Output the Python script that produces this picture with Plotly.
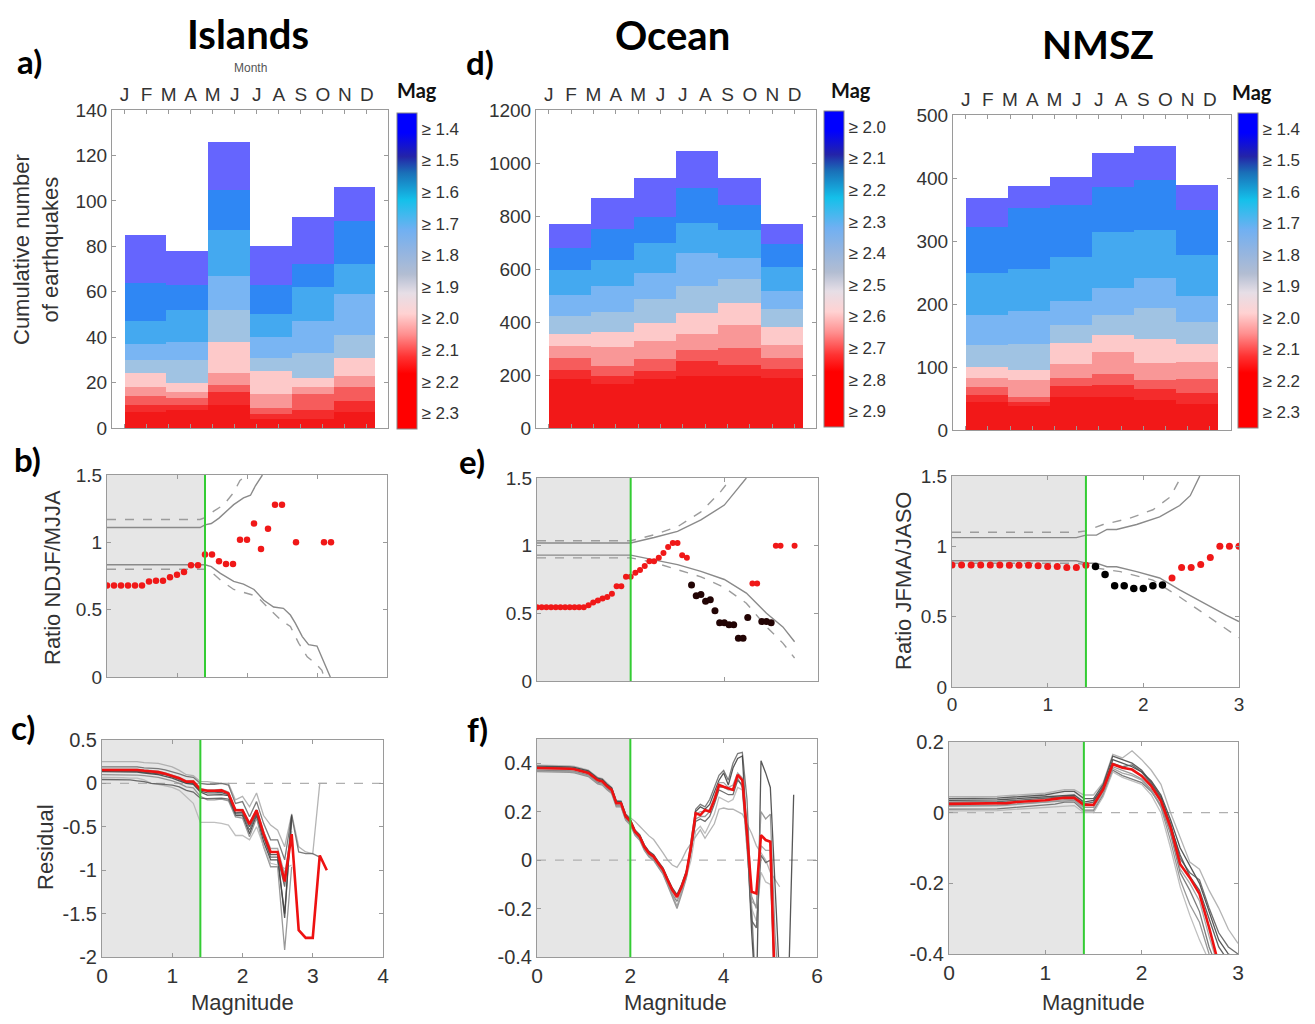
import plotly.graph_objects as go

W, H = 1315, 1024          # target picture size
PAGE_PAD = 8               # default body margin of the html page
FW, FH = W - 2 * PAGE_PAD, H - 2 * PAGE_PAD   # figure size so page fits the window

# ---------------- DATA ----------------
months = ["J", "F", "M", "A", "M", "J", "J", "A", "S", "O", "N", "D"]
bar_groups = ["Jan-Feb", "Mar-Apr", "May-Jun", "Jul-Aug", "Sep-Oct", "Nov-Dec"]

# cumulative counts per bi-monthly bar, layers from highest threshold (bottom) to lowest (top)
isl_labels = ["≥ 2.3", "≥ 2.2", "≥ 2.1", "≥ 2.0", "≥ 1.9", "≥ 1.8", "≥ 1.7", "≥ 1.6", "≥ 1.5", "≥ 1.4"]
isl_jf = [7, 10, 14, 18, 24, 30, 37, 47, 64, 85]
isl_ma = [8, 10, 13, 16, 20, 30, 38, 52, 63, 78]
isl_mj = [10, 16, 19, 24, 38, 52, 67, 87, 105, 126]
isl_ja = [4, 6, 9, 15, 25, 31, 40, 50, 63, 80]
isl_so = [4, 8, 15, 18, 22, 33, 47, 62, 72, 93]
isl_nd = [7, 12, 18, 23, 31, 41, 59, 72, 91, 106]

oc_labels = ["≥ 2.9", "≥ 2.8", "≥ 2.7", "≥ 2.6", "≥ 2.5", "≥ 2.4", "≥ 2.3", "≥ 2.2", "≥ 2.1", "≥ 2.0"]
oc_jf = [185, 220, 266, 308, 356, 423, 502, 597, 678, 770]
oc_ma = [166, 195, 235, 304, 364, 437, 534, 634, 752, 868]
oc_mj = [185, 217, 261, 327, 398, 487, 584, 700, 795, 942]
oc_ja = [195, 251, 295, 354, 433, 534, 660, 775, 907, 1044]
oc_so = [195, 236, 302, 389, 471, 562, 641, 747, 843, 945]
oc_nd = [188, 224, 266, 315, 383, 448, 518, 607, 693, 770]

nm_labels = ["≥ 2.3", "≥ 2.2", "≥ 2.1", "≥ 2.0", "≥ 1.9", "≥ 1.8", "≥ 1.7", "≥ 1.6", "≥ 1.5", "≥ 1.4"]
nm_jf = [44, 56, 69, 83, 100, 135, 183, 250, 323, 368]
nm_ma = [38, 45, 53, 79, 96, 137, 189, 256, 352, 387]
nm_mj = [53, 70, 82, 105, 138, 167, 204, 274, 357, 402]
nm_ja = [53, 72, 89, 124, 151, 183, 226, 315, 385, 439]
nm_so = [48, 65, 79, 106, 144, 193, 241, 317, 397, 451]
nm_nd = [42, 58, 81, 108, 136, 172, 213, 278, 349, 389]

layer_colors = ["#f21818", "#f42c2c", "#f65c5c", "#f99797", "#fdc9c9",
                "#a0c3e3", "#79b5f3", "#44a9f0", "#2f87f4", "#6565fe"]

# magnitude of completeness
mc_isl, mc_oc, mc_nm = 1.4, 2.0, 1.4

# ---- ratio panels ----
isl_ratio_mag = [0.0, 0.1, 0.2, 0.3, 0.4, 0.5, 0.6, 0.7, 0.8, 0.9, 1.0, 1.1, 1.2, 1.3, 1.4, 1.5, 1.6,
                 1.7, 1.8, 1.9, 2.0, 2.1, 2.2, 2.3, 2.4, 2.5, 2.7, 3.1, 3.2]
isl_ratio = [0.68, 0.68, 0.68, 0.68, 0.68, 0.68, 0.71, 0.715, 0.715, 0.74, 0.76, 0.78, 0.83, 0.83,
             0.91, 0.91, 0.86, 0.84, 0.84, 1.02, 1.02, 1.14, 0.95, 1.10, 1.28, 1.28, 1.0, 1.0, 1.0]
isl_up_solid_x = [0, 1.33, 1.4, 1.49, 1.6, 1.7, 1.81, 1.95, 2.05, 2.12, 2.22]
isl_up_solid_y = [1.11, 1.11, 1.13, 1.14, 1.18, 1.23, 1.28, 1.33, 1.35, 1.42, 1.5]
isl_up_dash_x = [0, 1.33, 1.43, 1.52, 1.67, 1.81, 1.9, 2.0]
isl_up_dash_y = [1.17, 1.17, 1.19, 1.23, 1.28, 1.37, 1.46, 1.5]
isl_lo_solid_x = [0, 1.4, 1.49, 1.62, 1.81, 1.95, 2.1, 2.24, 2.38, 2.52, 2.62, 2.69, 2.79, 2.88, 3.0, 3.07, 3.19]
isl_lo_solid_y = [0.833, 0.833, 0.82, 0.77, 0.71, 0.69, 0.65, 0.57, 0.52, 0.51, 0.46, 0.40, 0.30, 0.24, 0.23, 0.15, 0.0]
isl_lo_dash_x = [0, 1.4, 1.49, 1.62, 1.81, 1.95, 2.14, 2.29, 2.48, 2.62, 2.74, 2.86, 2.98, 3.07, 3.1]
isl_lo_dash_y = [0.80, 0.80, 0.78, 0.72, 0.65, 0.63, 0.60, 0.52, 0.425, 0.375, 0.25, 0.15, 0.10, 0.05, 0.0]

oc_red_mag = [0.0, 0.1, 0.2, 0.3, 0.4, 0.5, 0.6, 0.7, 0.8, 0.9, 1.0, 1.1, 1.2, 1.3, 1.4, 1.5, 1.6, 1.7,
              1.8, 1.9, 2.0, 2.1, 2.2, 2.3, 2.4, 2.5, 2.6, 2.7, 2.8, 2.9, 3.0, 3.1, 3.2, 4.6, 4.7, 5.1, 5.2, 5.5]
oc_red_ratio = [0.545, 0.545, 0.545, 0.545, 0.545, 0.545, 0.545, 0.545, 0.545, 0.545, 0.545, 0.56, 0.58,
                0.595, 0.61, 0.62, 0.645, 0.70, 0.70, 0.77, 0.77, 0.80, 0.82, 0.85, 0.885, 0.885, 0.91,
                0.945, 0.99, 1.02, 1.02, 0.93, 0.91, 0.72, 0.72, 1.0, 1.0, 1.0]
oc_blk_mag = [3.3, 3.4, 3.5, 3.6, 3.7, 3.8, 3.9, 4.0, 4.1, 4.2, 4.3, 4.4, 4.5, 4.8, 4.9, 5.0]
oc_blk_ratio = [0.71, 0.63, 0.64, 0.59, 0.60, 0.52, 0.43, 0.43, 0.415, 0.415, 0.315, 0.315, 0.47, 0.44, 0.44, 0.43]
oc_up_solid_x = [0, 2.0, 2.5, 3.0, 3.5, 4.0, 4.26, 4.47]
oc_up_solid_y = [1.02, 1.02, 1.06, 1.105, 1.19, 1.30, 1.41, 1.5]
oc_up_dash_x = [0, 2.0, 2.5, 3.0, 3.5, 3.9, 4.15]
oc_up_dash_y = [1.036, 1.036, 1.08, 1.14, 1.25, 1.39, 1.5]
oc_lo_solid_x = [0, 2.0, 2.5, 3.0, 3.5, 4.0, 4.47, 4.9, 5.25, 5.5]
oc_lo_solid_y = [0.93, 0.93, 0.895, 0.86, 0.81, 0.75, 0.65, 0.50, 0.40, 0.29]
oc_lo_dash_x = [0, 2.0, 2.5, 3.0, 3.5, 4.0, 4.47, 4.9, 5.25, 5.5]
oc_lo_dash_y = [0.91, 0.91, 0.875, 0.82, 0.77, 0.69, 0.575, 0.40, 0.28, 0.17]

nm_red_mag = [0.0, 0.1, 0.2, 0.3, 0.4, 0.5, 0.6, 0.7, 0.8, 0.9, 1.0, 1.1, 1.2, 1.3, 1.4,
              2.3, 2.4, 2.5, 2.6, 2.7, 2.8, 2.9, 3.0]
nm_red_ratio = [0.868, 0.868, 0.868, 0.868, 0.868, 0.868, 0.865, 0.865, 0.865, 0.862, 0.856, 0.856,
                0.85, 0.85, 0.865, 0.775, 0.85, 0.85, 0.87, 0.92, 1.0, 1.0, 1.0]
nm_blk_mag = [1.5, 1.6, 1.7, 1.8, 1.9, 2.0, 2.1, 2.2]
nm_blk_ratio = [0.856, 0.80, 0.72, 0.72, 0.70, 0.70, 0.72, 0.725]
nm_up_solid_x = [0, 1.3, 1.4, 1.51, 1.62, 1.72, 1.93, 2.17, 2.38, 2.49, 2.59]
nm_up_solid_y = [1.062, 1.062, 1.08, 1.08, 1.12, 1.12, 1.155, 1.21, 1.29, 1.36, 1.5]
nm_up_dash_x = [0, 1.3, 1.4, 1.58, 1.86, 2.1, 2.28, 2.4]
nm_up_dash_y = [1.10, 1.10, 1.11, 1.155, 1.20, 1.26, 1.35, 1.5]
nm_lo_solid_x = [0, 1.3, 1.4, 1.51, 1.62, 1.72, 1.93, 2.17, 2.38, 2.62, 2.87, 3.0]
nm_lo_solid_y = [0.897, 0.897, 0.88, 0.88, 0.855, 0.855, 0.82, 0.775, 0.69, 0.60, 0.51, 0.465]
nm_lo_dash_x = [0, 1.3, 1.4, 1.51, 1.76, 2.1, 2.38, 2.62, 2.83, 3.0]
nm_lo_dash_y = [0.88, 0.88, 0.87, 0.845, 0.82, 0.76, 0.64, 0.525, 0.43, 0.35]

# ---- residual panels ----
res_mag_c = [0.0, 0.1, 0.2, 0.3, 0.4, 0.5, 0.6, 0.7, 0.8, 0.9, 1.0, 1.1, 1.2, 1.3, 1.4, 1.5, 1.6,
             1.7, 1.8, 1.9, 2.0, 2.1, 2.2, 2.3, 2.4, 2.5, 2.6, 2.7, 2.8, 2.9, 3.0, 3.1, 3.2]
res_c_mean = [0.155, 0.155, 0.155, 0.155, 0.155, 0.155, 0.145, 0.135, 0.13, 0.11, 0.085, 0.06, 0.02, 0.02,
              -0.07, -0.085, -0.085, -0.08, -0.115, -0.31, -0.31, -0.47, -0.31, -0.58, -0.79, -0.79,
              -1.13, -0.585, -1.69, -1.78, -1.78, -0.83, -1.0]
res_c_g1 = [0.25, 0.25, 0.25, 0.25, 0.25, 0.25, 0.24, 0.235, 0.23, 0.21, 0.19, 0.15, 0.10, 0.09, 0.02, 0.02,
            0.01, 0.0, 0.0, -0.19, -0.15, -0.27, -0.11, -0.37, -0.48, -0.54, -0.73, -0.35, -0.73, -0.79,
            -0.81, 0.0, 0.0]
res_c_g2 = [0.19, 0.19, 0.19, 0.19, 0.19, 0.19, 0.18, 0.175, 0.17, 0.155, 0.135, 0.11, 0.08, 0.07, 0.0,
            -0.01, -0.01, 0.0, -0.02, -0.23, -0.21, -0.385, -0.21, -0.46, -0.65, -0.65, -0.88, -0.37,
            -0.79, -0.81, -0.81, -0.85]
res_c_g3 = [0.135, 0.135, 0.135, 0.135, 0.135, 0.13, 0.12, 0.11, 0.1, 0.08, 0.06, 0.03, 0.0, -0.01, -0.1,
            -0.135, -0.135, -0.13, -0.14, -0.37, -0.37, -0.58, -0.37, -0.67, -0.88, -0.88, -1.5, -0.385]
res_c_g4 = [0.10, 0.10, 0.10, 0.10, 0.10, 0.095, 0.09, 0.08, 0.07, 0.05, 0.03, 0.0, -0.04, -0.05, -0.15,
            -0.19, -0.19, -0.18, -0.2, -0.385, -0.4, -0.615, -0.4, -0.73, -0.96, -0.96, -1.92, -0.96]
res_c_g5 = [0.07, 0.07, 0.07, 0.065, 0.06, 0.06, 0.04, 0.0, -0.01, -0.03, -0.045, -0.08, -0.15, -0.23,
            -0.45, -0.45, -0.45, -0.46, -0.48, -0.6, -0.6, -0.65, -0.5, -0.72, -0.92, -0.94, -0.98, -0.94]
res_c_g6 = [0.045, 0.045, 0.045, 0.045, 0.04, 0.03, 0.02, 0.0, -0.005, -0.01, -0.02, -0.04, -0.08, -0.1,
            -0.17, -0.175, -0.175, -0.17, -0.18, -0.35, -0.35, -0.54, -0.35, -0.62, -0.85, -0.85, -1.19, -0.42]
res_c_g7 = [0.165, 0.165, 0.165, 0.165, 0.165, 0.165, 0.155, 0.145, 0.14, 0.12, 0.095, 0.07, 0.03, 0.03,
            -0.06, -0.075, -0.075, -0.07, -0.1, -0.3, -0.3, -0.45, -0.3, -0.55, -0.75, -0.75, -1.05, -0.55]
res_c_g8 = [0.145, 0.145, 0.145, 0.145, 0.145, 0.14, 0.13, 0.12, 0.115, 0.1, 0.075, 0.045, 0.005, 0.0,
            -0.09, -0.11, -0.11, -0.105, -0.13, -0.34, -0.33, -0.5, -0.33, -0.6, -0.82, -0.82, -1.55, -0.36]

res_mag_f = [0.0, 0.1, 0.2, 0.3, 0.4, 0.5, 0.6, 0.7, 0.8, 0.9, 1.0, 1.1, 1.2, 1.3, 1.4, 1.5, 1.6, 1.7,
             1.8, 1.9, 2.0, 2.1, 2.2, 2.3, 2.4, 2.5, 2.6, 2.7, 2.8, 2.9, 3.0, 3.1, 3.2, 3.3, 3.4, 3.5,
             3.6, 3.7, 3.8, 3.9, 4.0, 4.1, 4.2, 4.3, 4.4, 4.5, 4.6, 4.7, 4.8, 4.9, 5.0, 5.1, 5.2, 5.3,
             5.4, 5.5]
res_f_mean = [0.38, 0.38, 0.38, 0.38, 0.38, 0.38, 0.378, 0.377, 0.375, 0.37, 0.365, 0.36, 0.345, 0.33,
              0.325, 0.305, 0.29, 0.235, 0.235, 0.18, 0.16, 0.117, 0.097, 0.055, 0.028, 0.014, -0.014,
              -0.04, -0.083, -0.124, -0.152, -0.11, -0.055, 0.055, 0.193, 0.186, 0.207, 0.2, 0.248,
              0.31, 0.303, 0.296, 0.29, 0.352, 0.33, 0.11, -0.131, -0.138, 0.103, 0.083, 0.076, -0.55]
res_f_g1 = [0.392, 0.392, 0.392, 0.392, 0.392, 0.392, 0.39, 0.389, 0.387, 0.382, 0.377, 0.372, 0.357,
            0.342, 0.337, 0.317, 0.3, 0.245, 0.24, 0.19, 0.175, 0.16, 0.14, 0.12, 0.1, 0.085, 0.06, 0.03,
            0.0, -0.02, -0.03, 0.0, 0.04, 0.07, 0.10, 0.125, 0.09, 0.12, 0.15, 0.21, 0.215, 0.21, 0.21,
            0.2, 0.19, 0.15, 0.11, 0.06, 0.03, 0.0, -0.05, -0.08, -0.11]
res_f_g2 = [0.372, 0.372, 0.372, 0.372, 0.372, 0.372, 0.37, 0.369, 0.367, 0.362, 0.357, 0.352, 0.337,
            0.322, 0.317, 0.297, 0.282, 0.227, 0.227, 0.172, 0.152, 0.11, 0.09, 0.048, 0.02, 0.006, -0.022,
            -0.05, -0.095, -0.14, -0.17, -0.12, -0.065, 0.08, 0.21, 0.23, 0.22, 0.25, 0.30, 0.35, 0.37,
            0.33, 0.40, 0.44, 0.445, 0.25, -0.2, -0.6]
res_f_g3 = [0.388, 0.388, 0.388, 0.388, 0.388, 0.388, 0.386, 0.385, 0.383, 0.378, 0.373, 0.368, 0.353,
            0.338, 0.333, 0.313, 0.298, 0.243, 0.243, 0.188, 0.168, 0.125, 0.105, 0.063, 0.036, 0.022,
            -0.006, -0.032, -0.075, -0.115, -0.142, -0.1, -0.045, 0.05, 0.20, 0.22, 0.21, 0.23, 0.28,
            0.33, 0.36, 0.31, 0.38, 0.42, 0.43, 0.1, -0.3, -0.6, 0.41, 0.36, 0.30, -0.1, -0.5, -0.9,
            -0.45, 0.27]
res_f_g4 = [0.365, 0.365, 0.365, 0.365, 0.365, 0.365, 0.363, 0.362, 0.36, 0.355, 0.35, 0.345, 0.33,
            0.315, 0.31, 0.29, 0.275, 0.22, 0.22, 0.165, 0.145, 0.102, 0.082, 0.04, 0.013, -0.001, -0.03,
            -0.058, -0.105, -0.15, -0.2, -0.14, -0.075, 0.03, 0.17, 0.18, 0.18, 0.2, 0.25, 0.3, 0.3,
            0.29, 0.29, 0.34, 0.30, 0.05, -0.15, -0.2, 0.2, 0.17, 0.19, -0.3, -0.6]
res_f_g5 = [0.376, 0.376, 0.376, 0.376, 0.376, 0.376, 0.374, 0.373, 0.371, 0.366, 0.361, 0.356, 0.341,
            0.326, 0.321, 0.301, 0.286, 0.231, 0.231, 0.176, 0.156, 0.113, 0.093, 0.05, 0.022, 0.008,
            -0.02, -0.047, -0.09, -0.135, -0.165, -0.125, -0.07, 0.0, 0.12, 0.14, 0.11, 0.15, 0.19,
            0.26, 0.25, 0.24, 0.25, 0.30, 0.29, 0.05, -0.2, -0.25, -0.05, -0.09, -0.1, -0.45]
res_f_g6 = [0.384, 0.384, 0.384, 0.384, 0.384, 0.384, 0.382, 0.381, 0.379, 0.374, 0.369, 0.364, 0.349,
            0.334, 0.329, 0.309, 0.294, 0.239, 0.239, 0.184, 0.164, 0.121, 0.101, 0.059, 0.032, 0.018,
            -0.01, -0.036, -0.079, -0.12, -0.148, -0.105, -0.05, 0.04, 0.16, 0.17, 0.16, 0.18, 0.23,
            0.29, 0.28, 0.27, 0.27, 0.33, 0.31, 0.08, -0.25, -0.28, 0.02, -0.01, 0.0, -0.6]
res_f_g7 = [0.368, 0.368, 0.368, 0.368, 0.368, 0.368, 0.366, 0.365, 0.363, 0.358, 0.353, 0.348, 0.333,
            0.318, 0.313, 0.293, 0.278, 0.223, 0.223, 0.168, 0.148, 0.106, 0.086, 0.044, 0.016, 0.002,
            -0.026, -0.055, -0.1, -0.145, -0.19, -0.13, -0.07, 0.06, 0.19, 0.2, 0.2, 0.21, 0.26, 0.32,
            0.32, 0.30, 0.31, 0.36, 0.34, 0.12, -0.17, -0.19, 0.06, 0.04, 0.04, -0.5]

res_mag_n = [0.0, 0.1, 0.2, 0.3, 0.4, 0.5, 0.6, 0.7, 0.8, 0.9, 1.0, 1.1, 1.2, 1.3, 1.4, 1.5, 1.6, 1.7,
             1.8, 1.9, 2.0, 2.1, 2.2, 2.3, 2.4, 2.5, 2.6, 2.7, 2.8, 2.9, 3.0]
res_n_mean = [0.025, 0.025, 0.025, 0.025, 0.025, 0.025, 0.027, 0.03, 0.031, 0.033, 0.035, 0.039, 0.042,
              0.042, 0.022, 0.022, 0.066, 0.137, 0.127, 0.122, 0.104, 0.075, 0.033, -0.042, -0.146,
              -0.184, -0.23, -0.325, -0.43]
res_n_g1 = [0.045, 0.045, 0.045, 0.045, 0.045, 0.046, 0.048, 0.05, 0.052, 0.054, 0.055, 0.06, 0.065, 0.065,
            0.05, 0.05, 0.085, 0.165, 0.155, 0.175, 0.15, 0.12, 0.08, 0.0, -0.07, -0.14, -0.16, -0.22,
            -0.27, -0.33, -0.37]
res_n_g2 = [0.01, 0.01, 0.01, 0.01, 0.01, 0.011, 0.013, 0.015, 0.016, 0.018, 0.02, 0.024, 0.03, 0.03,
            0.005, 0.005, 0.05, 0.12, 0.105, 0.095, 0.085, 0.06, 0.02, -0.06, -0.17, -0.22, -0.28, -0.38, -0.45]
res_n_g3 = [0.035, 0.035, 0.035, 0.035, 0.035, 0.036, 0.038, 0.04, 0.042, 0.044, 0.045, 0.048, 0.05, 0.05,
            0.03, 0.035, 0.07, 0.15, 0.14, 0.13, 0.115, 0.09, 0.05, -0.02, -0.1, -0.15, -0.2, -0.28,
            -0.36, -0.4, -0.41]
res_n_g4 = [0.02, 0.02, 0.02, 0.02, 0.02, 0.021, 0.023, 0.025, 0.027, 0.029, 0.03, 0.033, 0.035, 0.035,
            0.015, 0.015, 0.06, 0.13, 0.12, 0.11, 0.095, 0.065, 0.015, -0.08, -0.19, -0.26, -0.31, -0.4, -0.46]
res_n_g5 = [0.005, 0.005, 0.005, 0.005, 0.005, 0.006, 0.008, 0.01, 0.012, 0.014, 0.015, 0.018, 0.02, 0.02,
            0.0, 0.0, 0.045, 0.115, 0.1, 0.09, 0.08, 0.05, 0.0, -0.1, -0.21, -0.29, -0.36, -0.42]
res_n_g6 = [0.03, 0.03, 0.03, 0.03, 0.03, 0.031, 0.033, 0.035, 0.037, 0.04, 0.041, 0.043, 0.045, 0.045,
            0.025, 0.03, 0.075, 0.14, 0.13, 0.135, 0.115, 0.08, 0.04, -0.03, -0.13, -0.17, -0.19, -0.27,
            -0.34, -0.38, -0.4]
res_n_g7 = [0.018, 0.018, 0.018, 0.018, 0.018, 0.019, 0.021, 0.024, 0.026, 0.028, 0.03, 0.034, 0.037,
            0.037, 0.008, 0.008, 0.055, 0.125, 0.112, 0.105, 0.092, 0.062, 0.022, -0.055, -0.16, -0.2,
            -0.25, -0.35, -0.44]
res_n_g8 = [0.04, 0.04, 0.04, 0.04, 0.04, 0.041, 0.043, 0.045, 0.047, 0.049, 0.05, 0.055, 0.06, 0.06,
            0.04, 0.04, 0.08, 0.16, 0.15, 0.14, 0.12, 0.085, 0.045, -0.035, -0.12, -0.18, -0.22, -0.3,
            -0.38, -0.42]

gray_colors = ["#a8a8a8", "#666666", "#3a3a3a", "#888888", "#b4b4b4", "#555555", "#999999", "#444444"]

# ---------------- FIGURE ----------------
TICKFONT = dict(family="Liberation Sans, Arial, sans-serif", size=19, color="#333333")


def fx(x):
    return (x - PAGE_PAD) / FW


def fy(y):
    return 1 - (y - PAGE_PAD) / FH


fig = go.Figure()

# panel pixel boxes (in window pixels): (left, right, top, bottom)
boxes = [
    (112, 388, 110, 428),   # 1 a) Islands bars
    (536, 816, 110, 428),   # 2 d) Ocean bars
    (953, 1231, 115, 430),  # 3 NMSZ bars
    (107, 387, 475, 677),   # 4 b)
    (537, 818, 478, 681),   # 5 e)
    (952, 1239, 476, 687),  # 6 NMSZ ratio
    (102, 383, 740, 957),   # 7 c)
    (537, 817, 739, 957),   # 8 f)
    (949, 1238, 742, 954),  # 9 NMSZ residual
]


def ref(i, kind):
    return kind if i == 1 else f"{kind}{i}"


colorscale = [[0, "#ff0000"], [0.175, "#ff0000"], [0.228, "#ff3232"], [0.30, "#ff9090"],
              [0.365, "#ffd2d2"], [0.43, "#e6dee6"], [0.49, "#b2bdd2"], [0.566, "#90b4e2"],
              [0.63, "#70b0f2"], [0.725, "#14c0ea"], [0.81, "#1a70b8"], [0.862, "#2424a8"],
              [0.937, "#0000ff"], [1, "#0000ff"]]

regions = [
    (1, [isl_jf, isl_ma, isl_mj, isl_ja, isl_so, isl_nd], isl_labels, 397, 113, 429),
    (2, [oc_jf, oc_ma, oc_mj, oc_ja, oc_so, oc_nd], oc_labels, 824, 111, 427),
    (3, [nm_jf, nm_ma, nm_mj, nm_ja, nm_so, nm_nd], nm_labels, 1238, 113, 428),
]
xpos = list(range(len(bar_groups)))
for idx, bars, labels, cbx, cbt, cbb in regions:
    for k in range(len(labels)):
        seg = [b[k] - (b[k - 1] if k > 0 else 0) for b in bars]
        fig.add_trace(go.Bar(
            x=xpos, y=seg, width=1.0, marker=dict(color=layer_colors[k], line=dict(width=0)),
            name=labels[k], showlegend=False, customdata=bar_groups,
            hovertemplate="%{customdata}<br>" + labels[k] + "<extra></extra>",
            xaxis=ref(idx, "x"), yaxis=ref(idx, "y")))
    n = len(labels)
    fig.add_trace(go.Scatter(
        x=[-5], y=[-5], mode="markers", showlegend=False, hoverinfo="skip",
        xaxis=ref(idx, "x"), yaxis=ref(idx, "y"),
        marker=dict(color=[0], cmin=0, cmax=n, colorscale=colorscale, showscale=True,
                    colorbar=dict(x=fx(cbx), xanchor="left", y=fy((cbt + cbb) / 2), yanchor="middle",
                                  len=(cbb - cbt) / FH, lenmode="fraction", thickness=20,
                                  thicknessmode="pixels", xpad=0, ypad=0, outlinewidth=1,
                                  outlinecolor="#888888",
                                  tickvals=[k + 0.5 for k in range(n)], ticktext=labels, ticks="",
                                  tickfont=dict(family="Liberation Sans, Arial, sans-serif", size=17,
                                                color="#333333")))))


# ratio panels
def conf_lines(i, xs, ys, dash):
    fig.add_trace(go.Scatter(x=xs, y=ys, mode="lines", showlegend=False, hoverinfo="skip",
                             line=dict(color="#8a8a8a" if dash == "solid" else "#9c9c9c",
                                       width=1.4, dash=dash),
                             xaxis=ref(i, "x"), yaxis=ref(i, "y")))


conf_lines(4, isl_up_solid_x, isl_up_solid_y, "solid")
conf_lines(4, isl_up_dash_x, isl_up_dash_y, "dash")
conf_lines(4, isl_lo_solid_x, isl_lo_solid_y, "solid")
conf_lines(4, isl_lo_dash_x, isl_lo_dash_y, "dash")
conf_lines(5, oc_up_solid_x, oc_up_solid_y, "solid")
conf_lines(5, oc_up_dash_x, oc_up_dash_y, "dash")
conf_lines(5, oc_lo_solid_x, oc_lo_solid_y, "solid")
conf_lines(5, oc_lo_dash_x, oc_lo_dash_y, "dash")
conf_lines(6, nm_up_solid_x, nm_up_solid_y, "solid")
conf_lines(6, nm_up_dash_x, nm_up_dash_y, "dash")
conf_lines(6, nm_lo_solid_x, nm_lo_solid_y, "solid")
conf_lines(6, nm_lo_dash_x, nm_lo_dash_y, "dash")


def dots(i, xs, ys, color, size):
    fig.add_trace(go.Scatter(x=xs, y=ys, mode="markers", showlegend=False,
                             marker=dict(color=color, size=size, line=dict(width=0)),
                             xaxis=ref(i, "x"), yaxis=ref(i, "y")))


dots(4, isl_ratio_mag, isl_ratio, "#f01818", 6.5)
dots(5, oc_red_mag, oc_red_ratio, "#f01818", 6)
dots(5, oc_blk_mag, oc_blk_ratio, "#220404", 7)
dots(6, nm_red_mag, nm_red_ratio, "#f01818", 7)
dots(6, nm_blk_mag, nm_blk_ratio, "#000000", 7.5)


# residual panels
def residual(i, mags, grays, mean):
    for j, g in enumerate(grays):
        fig.add_trace(go.Scatter(x=mags[:len(g)], y=g, mode="lines", showlegend=False, hoverinfo="skip",
                                 line=dict(color=gray_colors[j % len(gray_colors)], width=1.3),
                                 opacity=0.85, xaxis=ref(i, "x"), yaxis=ref(i, "y")))
    fig.add_trace(go.Scatter(x=mags[:len(mean)], y=mean, mode="lines", showlegend=False,
                             line=dict(color="#ee1111", width=2.6),
                             xaxis=ref(i, "x"), yaxis=ref(i, "y")))


residual(7, res_mag_c, [res_c_g1, res_c_g2, res_c_g3, res_c_g4, res_c_g5, res_c_g6, res_c_g7, res_c_g8],
         res_c_mean)
residual(8, res_mag_f, [res_f_g1, res_f_g2, res_f_g3, res_f_g4, res_f_g5, res_f_g6, res_f_g7], res_f_mean)
residual(9, res_mag_n, [res_n_g1, res_n_g2, res_n_g3, res_n_g4, res_n_g5, res_n_g6, res_n_g7, res_n_g8],
         res_n_mean)

# ---------------- AXES ----------------
month_pos = [-0.5 + m * 0.527 for m in range(12)]
axis_cfg = {
    1: dict(x=dict(range=[-0.8, 5.8], tickvals=month_pos, ticktext=months, side="top"),
            y=dict(range=[0, 140], tickvals=[0, 20, 40, 60, 80, 100, 120, 140])),
    2: dict(x=dict(range=[-0.8, 5.8], tickvals=month_pos, ticktext=months, side="top"),
            y=dict(range=[0, 1200], tickvals=[0, 200, 400, 600, 800, 1000, 1200])),
    3: dict(x=dict(range=[-0.8, 5.8], tickvals=month_pos, ticktext=months, side="top"),
            y=dict(range=[0, 500], tickvals=[0, 100, 200, 300, 400, 500])),
    4: dict(x=dict(range=[0, 4], tickvals=[0, 1, 2, 3, 4], showticklabels=False),
            y=dict(range=[0, 1.5], tickvals=[0, 0.5, 1, 1.5], ticktext=["0", "0.5", "1", "1.5"])),
    5: dict(x=dict(range=[0, 6], tickvals=[0, 2, 4, 6], showticklabels=False),
            y=dict(range=[0, 1.5], tickvals=[0, 0.5, 1, 1.5], ticktext=["0", "0.5", "1", "1.5"])),
    6: dict(x=dict(range=[0, 3], tickvals=[0, 1, 2, 3], ticktext=["0", "1", "2", "3"]),
            y=dict(range=[0, 1.5], tickvals=[0, 0.5, 1, 1.5], ticktext=["0", "0.5", "1", "1.5"])),
    7: dict(x=dict(range=[0, 4], tickvals=[0, 1, 2, 3, 4], ticktext=["0", "1", "2", "3", "4"]),
            y=dict(range=[-2, 0.5], tickvals=[-2, -1.5, -1, -0.5, 0, 0.5],
                   ticktext=["-2", "-1.5", "-1", "-0.5", "0", "0.5"])),
    8: dict(x=dict(range=[0, 6], tickvals=[0, 2, 4, 6], ticktext=["0", "2", "4", "6"]),
            y=dict(range=[-0.4, 0.5], tickvals=[-0.4, -0.2, 0, 0.2, 0.4],
                   ticktext=["-0.4", "-0.2", "0", "0.2", "0.4"])),
    9: dict(x=dict(range=[0, 3], tickvals=[0, 1, 2, 3], ticktext=["0", "1", "2", "3"]),
            y=dict(range=[-0.4, 0.2], tickvals=[-0.4, -0.2, 0, 0.2],
                   ticktext=["-0.4", "-0.2", "0", "0.2"])),
}

layout = dict(width=FW, height=FH, margin=dict(l=0, r=0, t=0, b=0, pad=0, autoexpand=False),
              paper_bgcolor="white", plot_bgcolor="white", barmode="stack", bargap=0, showlegend=False)
for i, (l, r, t, b) in enumerate(boxes, start=1):
    base = dict(showline=True, linecolor="#9a9a9a", linewidth=1, mirror="ticks", ticks="inside",
                ticklen=4, tickcolor="#9a9a9a", showgrid=False, zeroline=False, tickfont=TICKFONT,
                fixedrange=True, automargin=False)
    xa = dict(base, domain=[fx(l), fx(r)], anchor=ref(i, "y"), **axis_cfg[i]["x"])
    ya = dict(base, domain=[fy(b), fy(t)], anchor=ref(i, "x"), **axis_cfg[i]["y"])
    if i >= 7:
        xa["tickfont"] = dict(TICKFONT, size=21)
        ya["tickfont"] = dict(TICKFONT, size=20)
    layout["xaxis" if i == 1 else f"xaxis{i}"] = xa
    layout["yaxis" if i == 1 else f"yaxis{i}"] = ya

shapes = []
for i, mc in [(4, mc_isl), (5, mc_oc), (6, mc_nm), (7, mc_isl), (8, mc_oc), (9, mc_nm)]:
    shapes.append(dict(type="rect", xref=ref(i, "x"), yref=ref(i, "y") + " domain", x0=0, x1=mc,
                       y0=0, y1=1, fillcolor="#e6e6e6", line=dict(width=0), layer="below"))
    if i >= 7:
        shapes.append(dict(type="line", xref=ref(i, "x") + " domain", yref=ref(i, "y"), x0=0, x1=1,
                           y0=0, y1=0, line=dict(color="#b0b0b0", width=1.3, dash="dash"),
                           layer="below"))
    shapes.append(dict(type="line", xref=ref(i, "x"), yref=ref(i, "y") + " domain", x0=mc, x1=mc,
                       y0=0, y1=1, line=dict(color="#33cc33", width=2)))
layout["shapes"] = shapes


def ann(text, x, y, size, bold=False, angle=0, family="Liberation Sans, Arial, sans-serif",
        color="#333333"):
    return dict(text=f"<b>{text}</b>" if bold else text, x=fx(x), y=fy(y), xref="paper",
                yref="paper", showarrow=False, textangle=angle, xanchor="center", yanchor="middle",
                font=dict(family=family, size=size, color=color))


TITLEFAM = "Lato, Open Sans, sans-serif"
annotations = [
    ann("Islands", 248, 34, 40, True, family=TITLEFAM, color="#000"),
    ann("Ocean", 672, 35, 40, True, family=TITLEFAM, color="#000"),
    ann("NMSZ", 1098, 44, 39, True, family=TITLEFAM, color="#000"),
    ann("a)", 30, 61, 33, True, family=TITLEFAM, color="#000"),
    ann("d)", 480, 62, 33, True, family=TITLEFAM, color="#000"),
    ann("b)", 27, 459, 33, True, family=TITLEFAM, color="#000"),
    ann("e)", 472, 461, 33, True, family=TITLEFAM, color="#000"),
    ann("c)", 23, 727, 33, True, family=TITLEFAM, color="#000"),
    ann("f)", 477, 729, 33, True, family=TITLEFAM, color="#000"),
    ann("Month", 250, 68, 12, color="#555555"),
    ann("Mag", 417, 90, 20, True, family=TITLEFAM, color="#111"),
    ann("Mag", 851, 90, 20, True, family=TITLEFAM, color="#111"),
    ann("Mag", 1252, 92, 20, True, family=TITLEFAM, color="#111"),
    ann("Cumulative number<br>of earthquakes", 36, 250, 22, angle=-90),
    ann("Ratio NDJF/MJJA", 52, 577, 22, angle=-90),
    ann("Ratio JFMA/JASO", 903, 581, 22, angle=-90),
    ann("Residual", 45, 847, 22, angle=-90),
    ann("Magnitude", 242, 1002, 22),
    ann("Magnitude", 675, 1002, 22),
    ann("Magnitude", 1093, 1002, 22),
]
layout["annotations"] = annotations

fig.update_layout(**layout)
fig.write_html("out.html")
